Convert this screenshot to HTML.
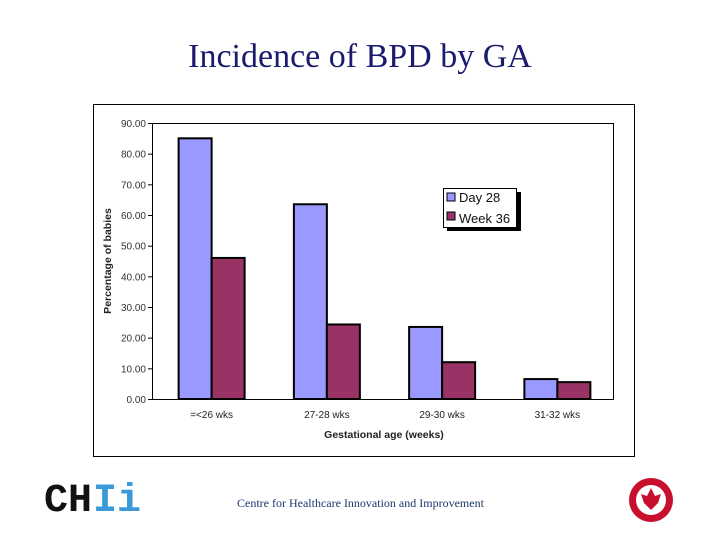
<!DOCTYPE html>
<html><head><meta charset="utf-8"><style>
body{margin:0;background:#fff;width:720px;height:540px;overflow:hidden;position:relative;font-family:"Liberation Sans",sans-serif}
#title{position:absolute;left:0;width:720px;top:38px;text-align:center;font-family:"Liberation Serif",serif;font-size:34px;color:#1a1a6e}
#footer{position:absolute;left:237px;top:496px;font-family:"Liberation Serif",serif;font-size:12px;color:#1a3a6e}
</style></head><body>
<div id="title">Incidence of BPD by GA</div>
<svg id="chart" width="720" height="540" style="position:absolute;left:0;top:0">
<rect x="93.5" y="104.5" width="541" height="352" fill="#fff" stroke="#000" stroke-width="1"/>
<rect x="152.5" y="123.5" width="461" height="276" fill="#fff" stroke="#000" stroke-width="1"/>
<g id="yaxis"></g><g id="bars"></g><g id="xaxis"></g>
<text transform="translate(111,261) rotate(-90)" text-anchor="middle" font-size="10.5" font-weight="bold" fill="#222">Percentage of babies</text>
<text x="384" y="438" text-anchor="middle" font-size="10.5" font-weight="bold" fill="#222">Gestational age (weeks)</text>
<g>
<rect x="447" y="192" width="74" height="39" fill="#000"/>
<rect x="443.5" y="188.5" width="73" height="39" fill="#fff" stroke="#000"/>
<rect x="447" y="193" width="8" height="8" fill="#9999ff" stroke="#000"/>
<text x="459" y="202" font-size="13" fill="#111">Day 28</text>
<rect x="447" y="212" width="8" height="8" fill="#993366" stroke="#000"/>
<text x="459" y="223" font-size="13" fill="#111">Week 36</text>
</g>
<g>
<text x="44" y="511" font-family="Liberation Mono,monospace" font-weight="bold" font-size="40" fill="#111" textLength="48" lengthAdjust="spacingAndGlyphs">CH</text>
<text x="93" y="511" font-family="Liberation Mono,monospace" font-weight="bold" font-size="40" fill="#3a9ad9" textLength="48" lengthAdjust="spacingAndGlyphs">Ii</text>
</g>
<g>
<circle cx="651" cy="500" r="22" fill="#c8102e"/>
<circle cx="651" cy="500" r="15" fill="#fff"/>
<path d="M651 488 L655 496 L661 494 L658 503 L651 510 L644 503 L641 494 L647 496 Z" fill="#c8102e"/>
</g>
</svg>
<div id="footer">Centre for Healthcare Innovation and Improvement</div>
<script>
const categories=["=<26 wks","27-28 wks","29-30 wks","31-32 wks"];
const day28=[85,63.5,23.5,6.5];
const week36=[46,24.3,12,5.5];
const yTicks=[0,10,20,30,40,50,60,70,80,90];
const NS="http://www.w3.org/2000/svg";
const L=152,R=613,T=123,B=399,YMAX=90;
const y=v=>B-(v/YMAX)*(B-T);
const bw=(R-L)/categories.length;
function mk(t,a,p){const e=document.createElementNS(NS,t);for(const k in a)e.setAttribute(k,a[k]);p.appendChild(e);return e;}
const ya=document.getElementById('yaxis'),bg=document.getElementById('bars'),xa=document.getElementById('xaxis');
yTicks.forEach(v=>{
 const l=mk('line',{x1:L-4,x2:L,y1:y(v)+0.5,y2:y(v)+0.5,stroke:'#000'},ya);
 
 
 const t=mk('text',{x:L-6,y:y(v)+4,'text-anchor':'end','font-size':'10',fill:'#333'},ya);
 t.textContent=v.toFixed(2);
 
 
});
categories.forEach((c,i)=>{
 const cx=L+bw*i+bw/2+2, w=33;
 const r1=mk('rect',{x:cx-w,y:y(day28[i]),width:w,height:B-y(day28[i]),fill:'#9999ff',stroke:'#000','stroke-width':2},bg);
 
 
 const r2=mk('rect',{x:cx,y:y(week36[i]),width:w,height:B-y(week36[i]),fill:'#993366',stroke:'#000','stroke-width':2},bg);
 
 
 const t=mk('text',{x:cx,y:418,'text-anchor':'middle','font-size':'10',fill:'#222'},xa);
 t.textContent=c;
 
 
});
</script>
</body></html>
